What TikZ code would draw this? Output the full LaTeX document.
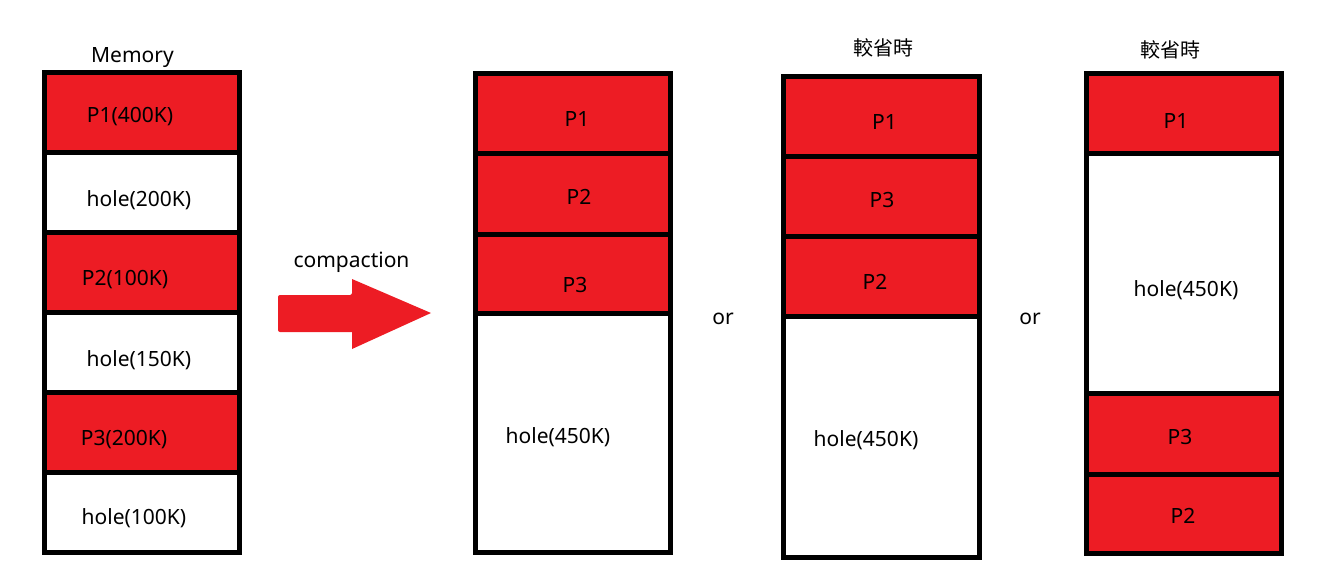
\documentclass[tikz,border=0pt]{standalone}
\usepackage{fontspec}
\setmainfont{Noto Sans}
\newfontfamily\cjk{Noto Sans CJK TC}
\definecolor{pred}{HTML}{ED1C24}
\begin{document}
\begin{tikzpicture}[x=1pt,y=-1pt,
  cell/.style={draw=black,line width=5pt,line join=miter,inner sep=0pt,outer sep=0pt},
  proc/.style={cell,fill=pred},
  hole/.style={cell,fill=white},
  lbl/.style={anchor=base,inner sep=0pt,font=\fontsize{21}{25}\selectfont,text=black},
  cjklbl/.style={anchor=base,inner sep=0pt,font=\cjk\fontsize{20}{24}\selectfont,text=black}]
\useasboundingbox (0,0) rectangle (1332,582);
% column 1
\node[proc,minimum width=195.5pt,minimum height=79.5pt] (c1a) at (141.75,112.25) {};
\node[hole,minimum width=195.5pt,minimum height=80pt] (c1b) at (141.75,192) {};
\node[proc,minimum width=195.5pt,minimum height=80pt] (c1c) at (141.75,272) {};
\node[hole,minimum width=195.5pt,minimum height=80pt] (c1d) at (141.75,352) {};
\node[proc,minimum width=195.5pt,minimum height=80pt] (c1e) at (141.75,432) {};
\node[hole,minimum width=195.5pt,minimum height=80pt] (c1f) at (141.75,512) {};
% column 2
\node[proc,minimum width=195.5pt,minimum height=80pt] (c2a) at (572.75,113.5) {};
\node[proc,minimum width=195.5pt,minimum height=80.5pt] (c2b) at (572.75,193.75) {};
\node[proc,minimum width=195.5pt,minimum height=79pt] (c2c) at (572.75,273.5) {};
\node[hole,minimum width=195.5pt,minimum height=239.5pt] (c2d) at (572.75,432.75) {};
% column 3
\node[proc,minimum width=195.5pt,minimum height=80.5pt] (c3a) at (881.25,116.25) {};
\node[proc,minimum width=195.5pt,minimum height=80.2pt] (c3b) at (881.25,196.6) {};
\node[proc,minimum width=195.5pt,minimum height=79.8pt] (c3c) at (881.25,276.6) {};
\node[hole,minimum width=195.5pt,minimum height=240.5pt] (c3d) at (881.25,436.75) {};
% column 4
\node[proc,minimum width=195pt,minimum height=80pt] (c4a) at (1183.5,113.5) {};
\node[hole,minimum width=195pt,minimum height=240pt] (c4b) at (1183.5,273.5) {};
\node[proc,minimum width=195pt,minimum height=80.5pt] (c4c) at (1183.5,433.75) {};
\node[proc,minimum width=195pt,minimum height=79.7pt] (c4d) at (1183.5,513.85) {};
% labels column 1
\node[lbl] (tmem) at (132.5,62) {Memory};
\node[lbl] (t1a) at (130,122) {P1(400K)};
\node[lbl] (t1b) at (139,206) {hole(200K)};
\node[lbl] (t1c) at (125,285) {P2(100K)};
\node[lbl] (t1d) at (139,366) {hole(150K)};
\node[lbl] (t1e) at (124,445) {P3(200K)};
\node[lbl] (t1f) at (134,524) {hole(100K)};
% labels column 2
\node[lbl] (t2a) at (577,126) {P1};
\node[lbl] (t2b) at (579,204) {P2};
\node[lbl] (t2c) at (575,292) {P3};
\node[lbl] (t2d) at (558,443) {hole(450K)};
% labels column 3
\node[cjklbl] (t3h) at (883.5,55) {較省時};
\node[lbl] (t3a) at (884.5,129) {P1};
\node[lbl] (t3b) at (882,207) {P3};
\node[lbl] (t3c) at (875,289) {P2};
\node[lbl] (t3d) at (866,446) {hole(450K)};
% labels column 4
\node[cjklbl] (t4h) at (1170,57) {較省時};
\node[lbl] (t4a) at (1176,128) {P1};
\node[lbl] (t4b) at (1186,296) {hole(450K)};
\node[lbl] (t4c) at (1180,444) {P3};
\node[lbl] (t4d) at (1183,523) {P2};
% or
\node[lbl] (or1) at (723,324) {or};
\node[lbl] (or2) at (1030,324) {or};
% compaction arrow
\node[lbl] (tcomp) at (351.5,267) {compaction};
\fill[pred,rounded corners=2pt] (278,295) -- (352,295) [sharp corners] -- (352,279) -- (431,313) -- (352,349) -- (352,332) [rounded corners=2pt] -- (278,332) -- cycle;
\end{tikzpicture}
\end{document}
